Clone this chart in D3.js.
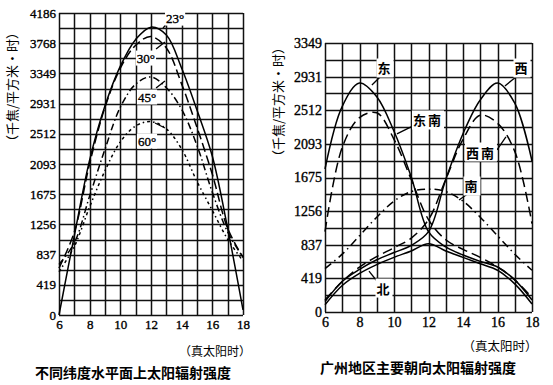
<!DOCTYPE html>
<html>
<head>
<meta charset="utf-8">
<script src="https://cdn.jsdelivr.net/npm/d3@7"></script>
<style>
  body { margin: 0; background: #fff; }
  svg { display: block; }
  .tick-num { font-family: "Liberation Serif", "DejaVu Serif", serif; fill: #000; stroke: #000; stroke-width: 0.35px; }
  .cjk { font-family: "Noto Sans CJK SC", sans-serif; font-weight: 700; fill: #000; }
</style>
</head>
<body>
<div id="chart"></div>
<script>
// hours of true solar time
const hours = [6, 7, 8, 9, 10, 11, 12, 13, 14, 15, 16, 17, 18];
const xTicks = [6, 8, 10, 12, 14, 16, 18];

// left chart: horizontal surface at different latitudes
const leftTicks = [0, 419, 837, 1256, 1675, 2093, 2512, 2931, 3349, 3768, 4186];
const lat23 = [0, 1100, 2150, 2900, 3450, 3820, 3990, 3880, 3420, 2840, 2200, 1200, 70];
const lat30 = [650, 1150, 2100, 2880, 3420, 3740, 3860, 3700, 3200, 2600, 1950, 1200, 800];
const lat45 = [700, 1000, 1650, 2300, 2880, 3200, 3300, 3150, 2850, 2350, 1700, 1150, 800];
const lat60 = [600, 950, 1500, 2000, 2400, 2620, 2680, 2580, 2300, 1850, 1450, 1050, 750];

// right chart: Guangzhou, main orientations
const rightTicks = [0, 419, 837, 1256, 1675, 2093, 2512, 2931, 3349];
const east = [1780, 2560, 2850, 2680, 2250, 1680, 1000, 810, 710, 630, 560, 400, 150];
const west = [130, 380, 530, 650, 740, 830, 1000, 1650, 2220, 2640, 2850, 2600, 1880];
const southEast = [1000, 2050, 2420, 2480, 2150, 1650, 1150, 900, 780, 680, 560, 400, 180];
const southWest = [150, 380, 560, 690, 800, 920, 1150, 1650, 2150, 2450, 2350, 2000, 1100];
const south = [540, 720, 950, 1180, 1380, 1500, 1530, 1500, 1380, 1180, 950, 720, 520];
const north = [90, 330, 480, 590, 680, 760, 850, 760, 680, 600, 520, 350, 100];

const width = 553, height = 385;

const svg = d3.select("#chart")
  .append("svg")
  .attr("width", width)
  .attr("height", height);

function drawPanel(opt) {
  const x = d3.scaleLinear().domain([6, 18]).range([opt.left, opt.right]);
  const yMax = opt.ticks[opt.ticks.length - 1];
  const y = d3.scaleLinear().domain([0, yMax]).range([opt.bottom, opt.top]);
  const g = svg.append("g");

  // grid: every hour, every half tick step
  const rows = (opt.ticks.length - 1) * 2;
  g.selectAll(".hgrid")
    .data(d3.range(rows + 1).map(i => i * yMax / rows))
    .enter().append("line")
    .attr("x1", x(6)).attr("x2", x(18))
    .attr("y1", d => Math.round(y(d)) + 0.5).attr("y2", d => Math.round(y(d)) + 0.5)
    .attr("stroke", "#111").attr("stroke-width", 1.5);
  g.selectAll(".vgrid")
    .data(hours)
    .enter().append("line")
    .attr("x1", d => Math.round(x(d)) + 0.5).attr("x2", d => Math.round(x(d)) + 0.5)
    .attr("y1", y(0)).attr("y2", y(yMax))
    .attr("stroke", "#111").attr("stroke-width", 1.5);

  // axes (labels only, grid does the lines)
  const yAxis = g.append("g")
    .attr("transform", `translate(${x(6)},0)`)
    .call(d3.axisLeft(y).tickValues(opt.ticks).tickSize(0).tickPadding(3).tickFormat(d3.format("d")));
  yAxis.select(".domain").remove();
  yAxis.selectAll("text").attr("class", "tick-num").style("font-size", opt.numSize + "px");

  const xAxis = g.append("g")
    .attr("transform", `translate(0,${y(0)})`)
    .call(d3.axisBottom(x).tickValues(xTicks).tickSize(0).tickPadding(5).tickFormat(d3.format("d")));
  xAxis.select(".domain").remove();
  xAxis.selectAll("text").attr("class", "tick-num").style("font-size", opt.numSize + "px");

  // curves
  const line = d3.line()
    .x((d, i) => x(hours[i]))
    .y(d => y(d))
    .curve(d3.curveCatmullRom.alpha(0.5));
  opt.series.forEach(s => {
    g.append("path")
      .datum(s.values)
      .attr("d", line)
      .attr("fill", "none")
      .attr("stroke", "#000")
      .attr("stroke-width", 1.5)
      .attr("stroke-dasharray", s.dash);
  });

  // labels with leaders
  opt.labels.forEach(l => {
    g.append("line")
      .attr("x1", x(l.from[0])).attr("y1", y(l.from[1]))
      .attr("x2", x(l.to[0])).attr("y2", y(l.to[1]))
      .attr("stroke", "#000").attr("stroke-width", 1.3);
    const t = g.append("text")
      .attr("class", l.cjk ? "cjk" : "tick-num")
      .attr("x", x(l.at[0])).attr("y", y(l.at[1]))
      .attr("text-anchor", "middle")
      .attr("dy", "0.35em")
      .style("font-size", l.size + "px")
      .style("letter-spacing", l.cjk ? "2px" : "0px")
      .text(l.text);
    const b = t.node().getBBox();
    g.insert("rect", () => t.node())
      .attr("x", b.x - 1).attr("y", b.y)
      .attr("width", b.width + 2).attr("height", b.height)
      .attr("fill", "#fff");
  });

  // unit label
  g.append("text")
    .attr("class", "cjk")
    .attr("transform", `translate(${opt.unitX},${opt.unitY}) rotate(-90)`)
    .attr("text-anchor", "middle")
    .attr("dy", "0.35em")
    .style("font-size", "13px")
    .style("font-weight", 400)
    .text("（千焦/平方米·时）");

  g.append("text")
    .attr("class", "cjk")
    .attr("x", opt.timeX).attr("y", opt.timeY)
    .attr("text-anchor", "middle")
    .style("font-size", opt.timeSize + "px")
    .style("font-weight", 400)
    .text("（真太阳时）");

  g.append("text")
    .attr("class", "cjk")
    .attr("x", opt.capX).attr("y", opt.capY)
    .attr("text-anchor", "middle")
    .style("font-size", "14px")
    .style("font-weight", 700)
    .text(opt.caption);
}

drawPanel({
  left: 59, right: 243, top: 13, bottom: 315,
  ticks: leftTicks, numSize: 13,
  series: [
    { values: lat23, dash: null },
    { values: lat30, dash: "9,4" },
    { values: lat45, dash: "7,3,1.5,3" },
    { values: lat60, dash: "3,3,1.5,3" }
  ],
  labels: [
    { text: "23°", at: [13.57, 4116], from: [12.78, 3978], to: [13.3, 4089], size: 13 },
    { text: "30°", at: [11.67, 3562], from: [12.33, 3687], to: [12.91, 3784], size: 13 },
    { text: "45°", at: [11.74, 3022], from: [12.33, 3146], to: [12.91, 3243], size: 13 },
    { text: "60°", at: [11.74, 2412], from: [12.26, 2661], to: [12.91, 2592], size: 13 }
  ],
  unitX: 12, unitY: 87,
  timeX: 215, timeY: 356, timeSize: 12,
  capX: 133, capY: 378,
  caption: "不同纬度水平面上太阳辐射强度"
});

drawPanel({
  left: 325, right: 532, top: 43, bottom: 312,
  ticks: rightTicks, numSize: 14,
  series: [
    { values: east, dash: null },
    { values: west, dash: null },
    { values: north, dash: null },
    { values: southEast, dash: "10,5" },
    { values: southWest, dash: "10,5" },
    { values: south, dash: "8,4,1.5,4" }
  ],
  labels: [
    { text: "东", at: [9.48, 3026], from: [8.72, 2827], to: [9.25, 2939], size: 13, cjk: true },
    { text: "西", at: [17.42, 3026], from: [16.43, 2814], to: [17.07, 2927], size: 13, cjk: true },
    { text: "东南", at: [11.97, 2379], from: [10.17, 2217], to: [10.99, 2304], size: 13, cjk: true },
    { text: "西南", at: [15.04, 1980], from: [15.97, 2017], to: [16.49, 2179], size: 13, cjk: true },
    { text: "南", at: [14.52, 1557], from: [13.77, 1395], to: [14.2, 1460], size: 13, cjk: true },
    { text: "北", at: [9.42, 286], from: [9.01, 386], to: [8.55, 510], size: 13, cjk: true }
  ],
  unitX: 278, unitY: 102,
  timeX: 500, timeY: 351, timeSize: 12.5,
  capX: 418, capY: 373,
  caption: "广州地区主要朝向太阳辐射强度"
});
</script>
</body>
</html>
